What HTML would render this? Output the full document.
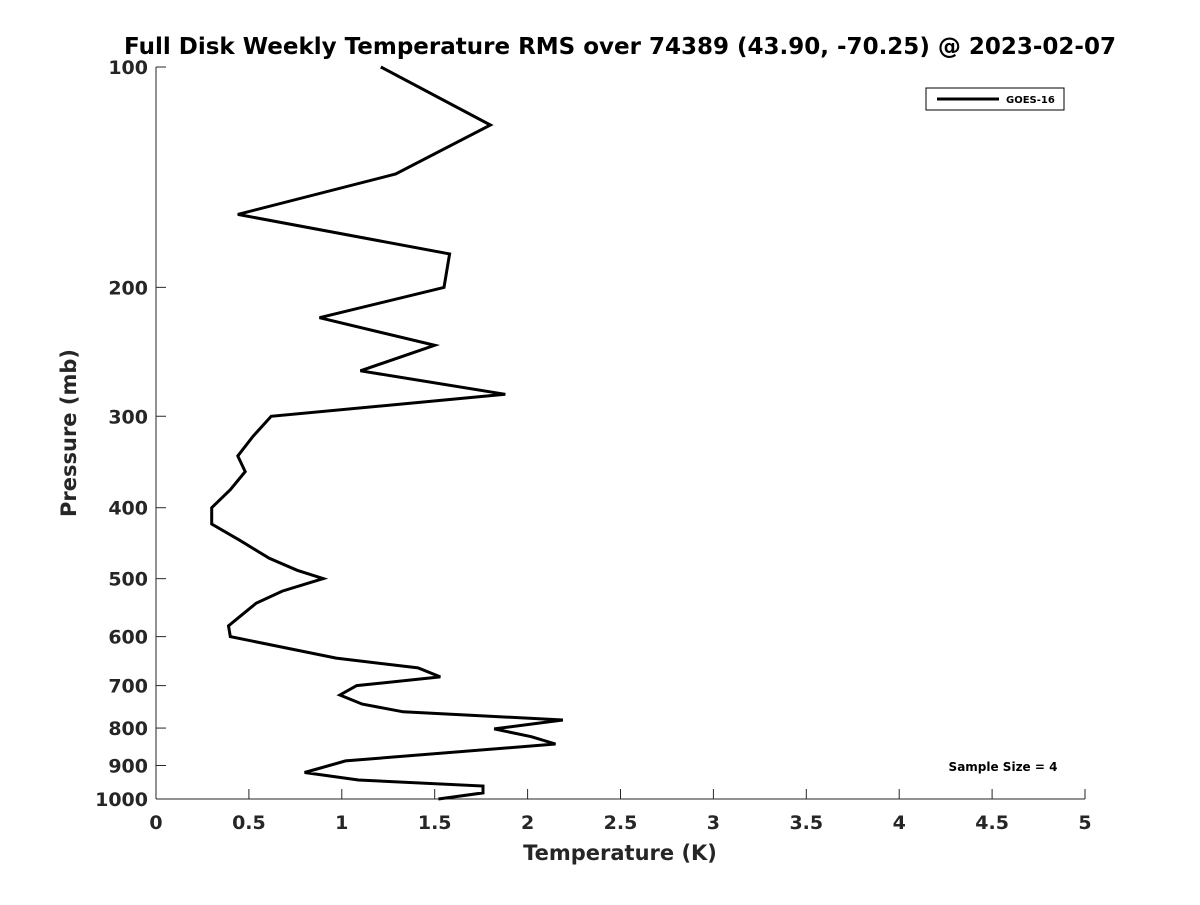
<!DOCTYPE html>
<html><head><meta charset="utf-8"><style>
body{margin:0;background:#fff;font-family:"Liberation Sans","DejaVu Sans",sans-serif;}
svg text{font-family:"DejaVu Sans","Liberation Sans",sans-serif;font-weight:bold;fill:#262626;}
</style></head><body>
<svg id="chart" width="1200" height="900">
<text x="620" y="54" text-anchor="middle" font-size="23" style="fill:#000">Full Disk Weekly Temperature RMS over 74389 (43.90, -70.25) @ 2023-02-07</text>
<g id="axes"></g>
<g id="legend">
<rect x="926" y="88" width="138" height="22" fill="#fff" stroke="#000" stroke-width="1"/>
<line x1="937" y1="99" x2="999" y2="99" stroke="#000" stroke-width="3"/>
<text x="1006" y="103" font-size="10" style="fill:#000">GOES-16</text>
</g>
<text x="1003" y="771" text-anchor="middle" font-size="12" style="fill:#000">Sample Size = 4</text>
<text x="620" y="860" text-anchor="middle" font-size="21">Temperature (K)</text>
<text transform="translate(76,433) rotate(-90)" text-anchor="middle" font-size="21">Pressure (mb)</text>
</svg>
<script>
const temps=[1.21,1.80,1.29,0.44,1.58,1.55,0.88,1.50,1.10,1.88,0.62,0.52,0.44,0.48,0.40,0.30,0.30,0.45,0.61,0.76,0.90,0.68,0.54,0.46,0.39,0.40,0.97,1.41,1.53,1.08,0.99,1.11,1.33,2.19,1.82,2.02,2.15,1.02,0.80,1.09,1.76,1.76,1.52];
const pressures=[100,120,140,159,180,200,220,240,260,280,300,320,340,357,378,400,421,443,469,487,500,520,540,561,580,600,642,662,681,700,721,742,760,780,802,822,841,887,920,942,960,981,1000];
const xTicks=[0,0.5,1,1.5,2,2.5,3,3.5,4,4.5,5];
const xTickLabels=["0","0.5","1","1.5","2","2.5","3","3.5","4","4.5","5"];
const yTicks=[100,200,300,400,500,600,700,800,900,1000];
const NS="http://www.w3.org/2000/svg";
const X0=156,X1=1085,Y0=67,Y1=799;
function xs(v){return X0+(v-0)/(5-0)*(X1-X0);}
function ys(p){return Y0+(Math.log10(p)-2)*(Y1-Y0);}
const g=document.getElementById('axes');
function mk(t,a){const e=document.createElementNS(NS,t);for(const k in a)e.setAttribute(k,a[k]);return e;}
const xa=mk('line',{x1:X0,y1:Y1,x2:X1,y2:Y1,stroke:'#262626','stroke-width':1});


g.appendChild(xa);
const ya=mk('line',{x1:X0,y1:Y0,x2:X0,y2:Y1,stroke:'#262626','stroke-width':1});


g.appendChild(ya);
xTicks.forEach((v,i)=>{
 const x=xs(v);
 const t=mk('line',{x1:x,y1:Y1,x2:x,y2:Y1-10,stroke:'#262626','stroke-width':1});
 
 
 g.appendChild(t);
 const l=mk('text',{x:x,y:Y1+30,'text-anchor':'middle','font-size':19});
 
 
 l.textContent=xTickLabels[i];g.appendChild(l);
});
yTicks.forEach(p=>{
 const y=ys(p);
 const t=mk('line',{x1:X0,y1:y,x2:X0+10,y2:y,stroke:'#262626','stroke-width':1});
 
 
 g.appendChild(t);
 const l=mk('text',{x:X0-8,y:y+7,'text-anchor':'end','font-size':19});
 
 
 l.textContent=String(p);g.appendChild(l);
});
const pts=temps.map((t,i)=>xs(t).toFixed(1)+','+ys(pressures[i]).toFixed(1)).join(' ');
const line=mk('polyline',{points:pts,fill:'none',stroke:'#000','stroke-width':3,'stroke-linejoin':'miter'});


g.appendChild(line);
</script>
</body></html>
